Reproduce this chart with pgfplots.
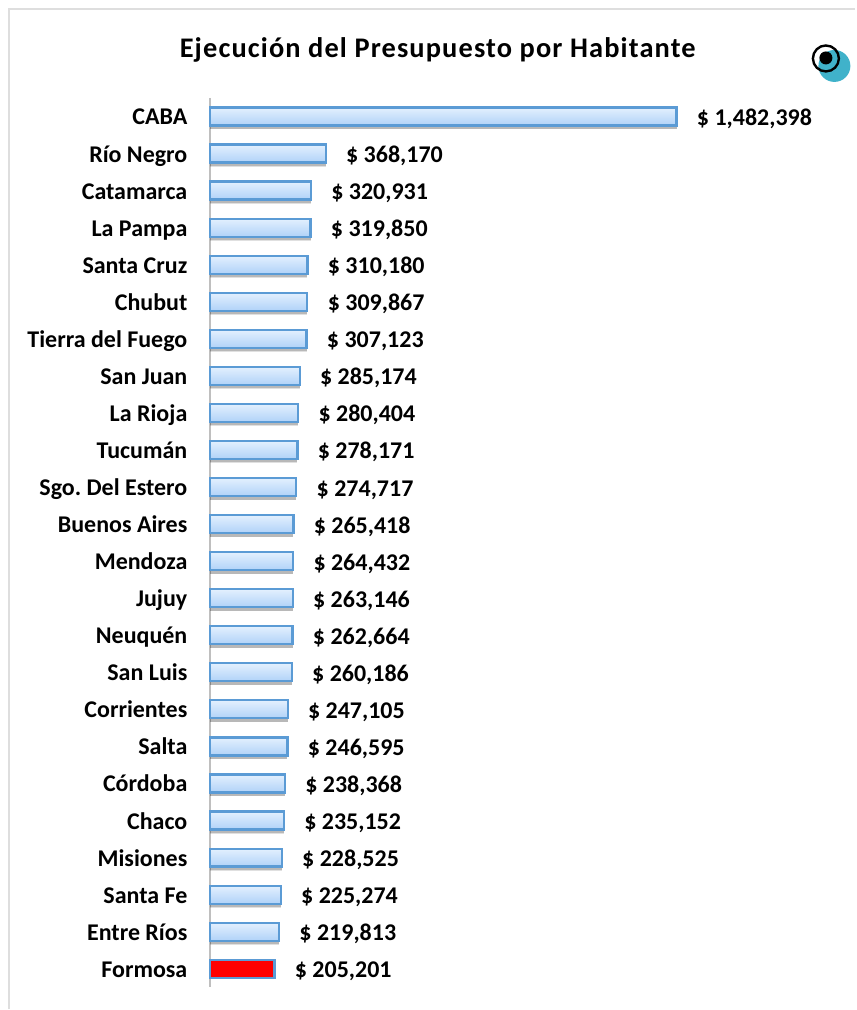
\documentclass[border=0pt]{standalone}
\usepackage{pgfplots}
\usepackage{fontspec}
\pgfplotsset{compat=1.18}
\setmainfont{Carlito}
\newfontfamily\titlefont[LetterSpace=4]{Carlito}
\frenchspacing
\definecolor{barline}{HTML}{5B9BD5}
\definecolor{bartop}{HTML}{E3F0FE}
\definecolor{barbot}{HTML}{B0D2F8}
\newcommand{\hbarrow}[3]{%
  \addplot[draw=none,fill=black,fill opacity=0.12,bar width=21pt,bar shift=-2.5pt,forget plot] coordinates {(#1,#2) };
  \addplot[draw=none,fill=black,fill opacity=0.18,bar width=19pt,bar shift=-3pt,forget plot] coordinates {(#1,#2)};
  \addplot[draw=barline,line width=2.2pt,top color=bartop,bottom color=barbot,bar width=18pt,bar shift=0pt,forget plot,valnode] coordinates {(#1,#2)[#3]};
}
\pgfplotsset{valnode/.style={
  nodes near coords,nodes near coords align={horizontal},
  every node near coord/.append style={font=\bfseries\fontsize{24}{24}\selectfont,text=black,anchor=west,xshift=16pt,yshift=-3.5pt,text height=15pt,text depth=4pt}}}
\begin{document}
\begin{tikzpicture}
\path (0pt,0pt) rectangle (856pt,-1010pt);
\draw[draw=black!13,line width=1.5pt] (9pt,-1010pt) -- (9pt,-9pt) -- (856pt,-9pt);
\begin{axis}[
  at={(210pt,-988pt)},anchor=south west,
  scale only axis,width=620pt,height=890pt,
  xmin=0,xmax=1968000,ymin=-0.5,ymax=23.5,y dir=reverse,
  axis y line=left,axis x line=none,
  y axis line style={draw=black!25,line width=1.5pt,-},
  xtick=\empty,
  ytick={0,...,23},
  yticklabels={CABA,Río Negro,Catamarca,La Pampa,Santa Cruz,Chubut,Tierra del Fuego,San Juan,La Rioja,Tucumán,Sgo. Del Estero,Buenos Aires,Mendoza,Jujuy,Neuquén,San Luis,Corrientes,Salta,Córdoba,Chaco,Misiones,Santa Fe,Entre Ríos,Formosa},
  yticklabel style={font=\bfseries\fontsize{24}{24}\selectfont,xshift=-19pt,yshift=-3pt,text=black,text height=15pt,text depth=4pt},
  major tick length=0pt,
  clip=false,
  xbar,
  point meta=explicit symbolic,
]
\hbarrow{1482398}{0}{\$ 1,482,398}
\hbarrow{368170}{1}{\$ 368,170}
\hbarrow{320931}{2}{\$ 320,931}
\hbarrow{319850}{3}{\$ 319,850}
\hbarrow{310180}{4}{\$ 310,180}
\hbarrow{309867}{5}{\$ 309,867}
\hbarrow{307123}{6}{\$ 307,123}
\hbarrow{285174}{7}{\$ 285,174}
\hbarrow{280404}{8}{\$ 280,404}
\hbarrow{278171}{9}{\$ 278,171}
\hbarrow{274717}{10}{\$ 274,717}
\hbarrow{265418}{11}{\$ 265,418}
\hbarrow{264432}{12}{\$ 264,432}
\hbarrow{263146}{13}{\$ 263,146}
\hbarrow{262664}{14}{\$ 262,664}
\hbarrow{260186}{15}{\$ 260,186}
\hbarrow{247105}{16}{\$ 247,105}
\hbarrow{246595}{17}{\$ 246,595}
\hbarrow{238368}{18}{\$ 238,368}
\hbarrow{235152}{19}{\$ 235,152}
\hbarrow{228525}{20}{\$ 228,525}
\hbarrow{225274}{21}{\$ 225,274}
\hbarrow{219813}{22}{\$ 219,813}
\addplot[draw=barline,line width=2.2pt,fill=red,bar width=18pt,bar shift=0pt,forget plot,valnode] coordinates {(205201,23)[\$ 205,201]};
\end{axis}
\node[font=\titlefont\bfseries\fontsize{28.4}{28.4}\selectfont] at (438pt,-50pt) {Ejecución del Presupuesto por Habitante};
\fill[fill={rgb,255:red,64;green,178;blue,202}] (835pt,-66pt) circle (16pt);
\draw[black,line width=2.4pt] (826.5pt,-58.5pt) circle (13pt);
\fill[black] (826.5pt,-58pt) circle (6.5pt);
\end{tikzpicture}
\end{document}
